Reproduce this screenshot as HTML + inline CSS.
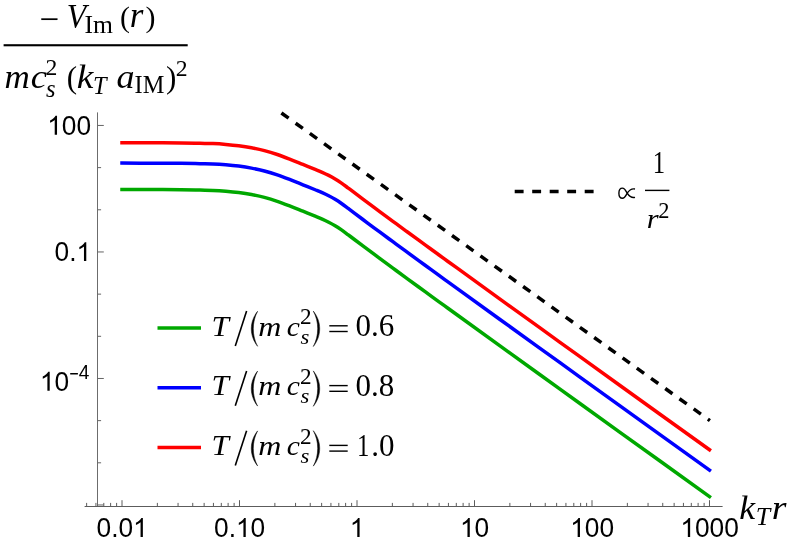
<!DOCTYPE html>
<html><head><meta charset="utf-8"><title>plot</title>
<style>html,body{margin:0;padding:0;background:#fff;overflow:hidden}svg{display:block;position:absolute;left:0;top:0;will-change:transform}text{white-space:pre}</style></head>
<body>
<svg width="789" height="543" viewBox="0 0 789 543">
<rect width="789" height="543" fill="#fff"/>
<g stroke="#5c5c5c" stroke-width="1" fill="none" shape-rendering="auto">
<line x1="97.5" y1="112.4" x2="97.5" y2="506.5" stroke="#6c6c6c"/>
<line x1="84.6" y1="506.5" x2="722.6" y2="506.5"/>
<line x1="86.63" y1="506.5" x2="86.63" y2="502.90"/>
<line x1="95.93" y1="506.5" x2="95.93" y2="502.90"/>
<line x1="103.80" y1="506.5" x2="103.80" y2="502.90"/>
<line x1="110.61" y1="506.5" x2="110.61" y2="502.90"/>
<line x1="116.62" y1="506.5" x2="116.62" y2="502.90"/>
<line x1="122.00" y1="506.5" x2="122.00" y2="500.20"/>
<line x1="157.37" y1="506.5" x2="157.37" y2="502.90"/>
<line x1="178.06" y1="506.5" x2="178.06" y2="502.90"/>
<line x1="192.74" y1="506.5" x2="192.74" y2="502.90"/>
<line x1="204.13" y1="506.5" x2="204.13" y2="502.90"/>
<line x1="213.43" y1="506.5" x2="213.43" y2="502.90"/>
<line x1="221.30" y1="506.5" x2="221.30" y2="502.90"/>
<line x1="228.11" y1="506.5" x2="228.11" y2="502.90"/>
<line x1="234.12" y1="506.5" x2="234.12" y2="502.90"/>
<line x1="239.50" y1="506.5" x2="239.50" y2="500.20"/>
<line x1="274.87" y1="506.5" x2="274.87" y2="502.90"/>
<line x1="295.56" y1="506.5" x2="295.56" y2="502.90"/>
<line x1="310.24" y1="506.5" x2="310.24" y2="502.90"/>
<line x1="321.63" y1="506.5" x2="321.63" y2="502.90"/>
<line x1="330.93" y1="506.5" x2="330.93" y2="502.90"/>
<line x1="338.80" y1="506.5" x2="338.80" y2="502.90"/>
<line x1="345.61" y1="506.5" x2="345.61" y2="502.90"/>
<line x1="351.62" y1="506.5" x2="351.62" y2="502.90"/>
<line x1="357.00" y1="506.5" x2="357.00" y2="500.20"/>
<line x1="392.37" y1="506.5" x2="392.37" y2="502.90"/>
<line x1="413.06" y1="506.5" x2="413.06" y2="502.90"/>
<line x1="427.74" y1="506.5" x2="427.74" y2="502.90"/>
<line x1="439.13" y1="506.5" x2="439.13" y2="502.90"/>
<line x1="448.43" y1="506.5" x2="448.43" y2="502.90"/>
<line x1="456.30" y1="506.5" x2="456.30" y2="502.90"/>
<line x1="463.11" y1="506.5" x2="463.11" y2="502.90"/>
<line x1="469.12" y1="506.5" x2="469.12" y2="502.90"/>
<line x1="474.50" y1="506.5" x2="474.50" y2="500.20"/>
<line x1="509.87" y1="506.5" x2="509.87" y2="502.90"/>
<line x1="530.56" y1="506.5" x2="530.56" y2="502.90"/>
<line x1="545.24" y1="506.5" x2="545.24" y2="502.90"/>
<line x1="556.63" y1="506.5" x2="556.63" y2="502.90"/>
<line x1="565.93" y1="506.5" x2="565.93" y2="502.90"/>
<line x1="573.80" y1="506.5" x2="573.80" y2="502.90"/>
<line x1="580.61" y1="506.5" x2="580.61" y2="502.90"/>
<line x1="586.62" y1="506.5" x2="586.62" y2="502.90"/>
<line x1="592.00" y1="506.5" x2="592.00" y2="500.20"/>
<line x1="627.37" y1="506.5" x2="627.37" y2="502.90"/>
<line x1="648.06" y1="506.5" x2="648.06" y2="502.90"/>
<line x1="662.74" y1="506.5" x2="662.74" y2="502.90"/>
<line x1="674.13" y1="506.5" x2="674.13" y2="502.90"/>
<line x1="683.43" y1="506.5" x2="683.43" y2="502.90"/>
<line x1="691.30" y1="506.5" x2="691.30" y2="502.90"/>
<line x1="698.11" y1="506.5" x2="698.11" y2="502.90"/>
<line x1="704.12" y1="506.5" x2="704.12" y2="502.90"/>
<line x1="709.50" y1="506.5" x2="709.50" y2="500.20"/>
<line x1="97.5" y1="125.45" x2="103.80" y2="125.45" stroke="#646464"/>
<line x1="97.5" y1="167.62" x2="101.10" y2="167.62" stroke="#646464"/>
<line x1="97.5" y1="209.79" x2="101.10" y2="209.79" stroke="#646464"/>
<line x1="97.5" y1="251.96" x2="103.80" y2="251.96" stroke="#646464"/>
<line x1="97.5" y1="294.13" x2="101.10" y2="294.13" stroke="#646464"/>
<line x1="97.5" y1="336.30" x2="101.10" y2="336.30" stroke="#646464"/>
<line x1="97.5" y1="378.47" x2="103.80" y2="378.47" stroke="#646464"/>
<line x1="97.5" y1="420.64" x2="101.10" y2="420.64" stroke="#646464"/>
<line x1="97.5" y1="462.81" x2="101.10" y2="462.81" stroke="#646464"/>
<line x1="97.5" y1="504.98" x2="103.80" y2="504.98" stroke="#646464"/>
</g>
<g fill="none" stroke-width="3.5" stroke-linejoin="round" stroke-linecap="square">
<path d="M122.00,189.50 C126.67,189.51 140.17,189.52 150.00,189.55 C159.83,189.58 172.67,189.61 181.00,189.70 C189.33,189.79 194.68,189.98 200.00,190.10 C205.32,190.22 208.60,190.22 212.90,190.40 C217.20,190.58 221.50,190.85 225.80,191.20 C230.10,191.55 234.42,191.95 238.70,192.50 C242.98,193.05 247.22,193.68 251.50,194.50 C255.78,195.32 260.10,196.27 264.40,197.40 C268.70,198.53 273.00,199.85 277.30,201.30 C281.60,202.75 285.93,204.45 290.20,206.10 C294.47,207.75 298.63,209.48 302.90,211.20 C307.17,212.92 312.58,215.08 315.80,216.40 C319.02,217.72 320.05,218.13 322.20,219.10 C324.35,220.07 326.55,221.10 328.70,222.20 C330.85,223.30 332.97,224.42 335.10,225.70 C337.23,226.98 339.37,228.42 341.50,229.90 C343.63,231.38 345.75,233.00 347.90,234.60 C350.05,236.20 351.17,237.07 354.40,239.50 C357.63,241.93 363.03,246.02 367.30,249.20 C371.57,252.38 375.73,255.45 380.00,258.60 C384.27,261.75 388.60,264.93 392.90,268.10 C397.20,271.27 401.50,274.45 405.80,277.60 C410.10,280.75 414.42,283.88 418.70,287.00 C422.98,290.12 427.22,293.18 431.50,296.30 C435.78,299.42 440.10,302.58 444.40,305.70 C448.70,308.82 448.03,308.30 457.30,315.00 C466.57,321.70 482.88,333.55 500.00,345.90 C517.12,358.25 540.00,374.70 560.00,389.10 C580.00,403.50 595.08,414.39 620.00,432.30 C644.92,450.21 694.58,485.84 709.50,496.55" stroke="#00a800"/>
<path d="M122.00,163.10 C126.67,163.11 140.17,163.12 150.00,163.15 C159.83,163.18 172.67,163.21 181.00,163.30 C189.33,163.39 194.68,163.58 200.00,163.70 C205.32,163.82 208.60,163.82 212.90,164.00 C217.20,164.18 221.50,164.45 225.80,164.80 C230.10,165.15 234.42,165.55 238.70,166.10 C242.98,166.65 247.22,167.28 251.50,168.10 C255.78,168.92 260.10,169.87 264.40,171.00 C268.70,172.13 273.00,173.45 277.30,174.90 C281.60,176.35 285.93,178.05 290.20,179.70 C294.47,181.35 298.63,183.08 302.90,184.80 C307.17,186.52 312.58,188.68 315.80,190.00 C319.02,191.32 320.05,191.73 322.20,192.70 C324.35,193.67 326.55,194.70 328.70,195.80 C330.85,196.90 332.97,198.02 335.10,199.30 C337.23,200.58 339.37,202.02 341.50,203.50 C343.63,204.98 345.75,206.60 347.90,208.20 C350.05,209.80 351.17,210.67 354.40,213.10 C357.63,215.53 363.03,219.62 367.30,222.80 C371.57,225.98 375.73,229.05 380.00,232.20 C384.27,235.35 388.60,238.53 392.90,241.70 C397.20,244.87 401.50,248.05 405.80,251.20 C410.10,254.35 414.42,257.48 418.70,260.60 C422.98,263.72 427.22,266.78 431.50,269.90 C435.78,273.02 440.10,276.18 444.40,279.30 C448.70,282.42 448.03,281.90 457.30,288.60 C466.57,295.30 482.88,307.15 500.00,319.50 C517.12,331.85 540.00,348.30 560.00,362.70 C580.00,377.10 595.08,387.99 620.00,405.90 C644.92,423.81 694.58,459.44 709.50,470.15" stroke="#0000ff"/>
<path d="M122.00,142.70 C126.67,142.71 140.17,142.72 150.00,142.75 C159.83,142.78 172.67,142.81 181.00,142.90 C189.33,142.99 194.68,143.18 200.00,143.30 C205.32,143.42 208.60,143.42 212.90,143.60 C217.20,143.78 221.50,144.05 225.80,144.40 C230.10,144.75 234.42,145.15 238.70,145.70 C242.98,146.25 247.22,146.88 251.50,147.70 C255.78,148.52 260.10,149.47 264.40,150.60 C268.70,151.73 273.00,153.05 277.30,154.50 C281.60,155.95 285.93,157.65 290.20,159.30 C294.47,160.95 298.63,162.68 302.90,164.40 C307.17,166.12 312.58,168.28 315.80,169.60 C319.02,170.92 320.05,171.33 322.20,172.30 C324.35,173.27 326.55,174.30 328.70,175.40 C330.85,176.50 332.97,177.62 335.10,178.90 C337.23,180.18 339.37,181.62 341.50,183.10 C343.63,184.58 345.75,186.20 347.90,187.80 C350.05,189.40 351.17,190.27 354.40,192.70 C357.63,195.13 363.03,199.22 367.30,202.40 C371.57,205.58 375.73,208.65 380.00,211.80 C384.27,214.95 388.60,218.13 392.90,221.30 C397.20,224.47 401.50,227.65 405.80,230.80 C410.10,233.95 414.42,237.08 418.70,240.20 C422.98,243.32 427.22,246.38 431.50,249.50 C435.78,252.62 440.10,255.78 444.40,258.90 C448.70,262.02 448.03,261.50 457.30,268.20 C466.57,274.90 482.88,286.75 500.00,299.10 C517.12,311.45 540.00,327.90 560.00,342.30 C580.00,356.70 595.08,367.59 620.00,385.50 C644.92,403.41 694.58,439.04 709.50,449.75" stroke="#ff0000"/>
</g>
<line x1="281.4" y1="113.0" x2="709.9" y2="420.58" stroke="#000" stroke-width="3.5" stroke-dasharray="8.9 8.6"/>
<line x1="157.5" y1="327.9" x2="201" y2="327.9" stroke="#00a800" stroke-width="3.5"/>
<line x1="157.5" y1="387.7" x2="201" y2="387.7" stroke="#0000ff" stroke-width="3.5"/>
<line x1="157.5" y1="447.5" x2="201" y2="447.5" stroke="#ff0000" stroke-width="3.5"/>
<line x1="514.7" y1="191.5" x2="593.9" y2="191.5" stroke="#000" stroke-width="3.5" stroke-dasharray="8.9 8.6"/>
<path transform="translate(47.23,134.72) scale(0.012842,-0.012842)" d="M763 0H583V1147Q518 1085 412.5 1023T223 930V1104Q374 1175 487 1276T647 1472H763Z" fill="#000"/>
<text transform="translate(61.85,134.72) scale(1,1.03)" font-family="'Liberation Sans', sans-serif" font-size="26.3" fill="#000">00</text>
<text transform="translate(54.54,261.12) scale(1,1.03)" font-family="'Liberation Sans', sans-serif" font-size="26.3" fill="#000">0.</text>
<path transform="translate(76.48,261.12) scale(0.012842,-0.012842)" d="M763 0H583V1147Q518 1085 412.5 1023T223 930V1104Q374 1175 487 1276T647 1472H763Z" fill="#000"/>
<path transform="translate(39.90,390.70) scale(0.012842,-0.012842)" d="M763 0H583V1147Q518 1085 412.5 1023T223 930V1104Q374 1175 487 1276T647 1472H763Z" fill="#000"/>
<text transform="translate(54.52,390.70) scale(1,1.03)" font-family="'Liberation Sans', sans-serif" font-size="26.3" fill="#000">0</text>
<rect x="70.2" y="373.0" width="7.7" height="1.5" fill="#000"/>
<text transform="translate(78.86,378.50) scale(1,1.03)" font-family="'Liberation Sans', sans-serif" font-size="19.1" fill="#000">4</text>
<text transform="translate(96.51,537.00) scale(1,1.03)" font-family="'Liberation Sans', sans-serif" font-size="26.3" fill="#000">0.0</text>
<path transform="translate(133.07,537.00) scale(0.012842,-0.012842)" d="M763 0H583V1147Q518 1085 412.5 1023T223 930V1104Q374 1175 487 1276T647 1472H763Z" fill="#000"/>
<text transform="translate(214.01,537.00) scale(1,1.03)" font-family="'Liberation Sans', sans-serif" font-size="26.3" fill="#000">0.</text>
<path transform="translate(235.94,537.00) scale(0.012842,-0.012842)" d="M763 0H583V1147Q518 1085 412.5 1023T223 930V1104Q374 1175 487 1276T647 1472H763Z" fill="#000"/>
<text transform="translate(250.57,537.00) scale(1,1.03)" font-family="'Liberation Sans', sans-serif" font-size="26.3" fill="#000">0</text>
<path transform="translate(349.79,537.00) scale(0.012842,-0.012842)" d="M763 0H583V1147Q518 1085 412.5 1023T223 930V1104Q374 1175 487 1276T647 1472H763Z" fill="#000"/>
<path transform="translate(459.98,537.00) scale(0.012842,-0.012842)" d="M763 0H583V1147Q518 1085 412.5 1023T223 930V1104Q374 1175 487 1276T647 1472H763Z" fill="#000"/>
<text transform="translate(474.60,537.00) scale(1,1.03)" font-family="'Liberation Sans', sans-serif" font-size="26.3" fill="#000">0</text>
<path transform="translate(570.17,537.00) scale(0.012842,-0.012842)" d="M763 0H583V1147Q518 1085 412.5 1023T223 930V1104Q374 1175 487 1276T647 1472H763Z" fill="#000"/>
<text transform="translate(584.79,537.00) scale(1,1.03)" font-family="'Liberation Sans', sans-serif" font-size="26.3" fill="#000">00</text>
<path transform="translate(680.35,537.00) scale(0.012842,-0.012842)" d="M763 0H583V1147Q518 1085 412.5 1023T223 930V1104Q374 1175 487 1276T647 1472H763Z" fill="#000"/>
<text transform="translate(694.98,537.00) scale(1,1.03)" font-family="'Liberation Sans', sans-serif" font-size="26.3" fill="#000">000</text>
<rect x="3.6" y="44.2" width="184.1" height="2.1" fill="#000"/>
<text x="39.46" y="30.90" font-family="'Liberation Serif', serif" font-style="normal" font-size="35" fill="#000">−</text>
<text transform="translate(66.64,27.30) scale(0.93,1.0)" font-family="'Liberation Serif', serif" font-style="italic" font-size="34.2" fill="#000">V</text>
<text x="84.38" y="32.80" font-family="'Liberation Serif', serif" font-style="normal" font-size="25.6" fill="#000">Im</text>
<text x="120.09" y="26.50" font-family="'Liberation Serif', serif" font-style="normal" font-size="29.9" fill="#000">(</text>
<text x="129.78" y="27.00" font-family="'Liberation Serif', serif" font-style="italic" font-size="35" fill="#000">r</text>
<text x="145.54" y="26.50" font-family="'Liberation Serif', serif" font-style="normal" font-size="29.9" fill="#000">)</text>
<text transform="translate(4.54,88.40) scale(1.0,0.96)" font-family="'Liberation Serif', serif" font-style="italic" font-size="35" fill="#000">m</text>
<text transform="translate(30.67,88.40) scale(1.05,0.96)" font-family="'Liberation Serif', serif" font-style="italic" font-size="35" fill="#000">c</text>
<text x="45.56" y="75.40" font-family="'Liberation Serif', serif" font-style="normal" font-size="23.7" fill="#000">2</text>
<text x="45.90" y="96.80" font-family="'Liberation Serif', serif" font-style="italic" font-size="24.5" fill="#000">s</text>
<text x="66.74" y="87.60" font-family="'Liberation Serif', serif" font-style="normal" font-size="31" fill="#000">(</text>
<text transform="translate(76.82,88.30) scale(1.07,0.95)" font-family="'Liberation Serif', serif" font-style="italic" font-size="35" fill="#000">k</text>
<text x="93.11" y="93.60" font-family="'Liberation Serif', serif" font-style="italic" font-size="24.3" fill="#000">T</text>
<text transform="translate(116.43,88.30) scale(1.03,0.95)" font-family="'Liberation Serif', serif" font-style="italic" font-size="35" fill="#000">a</text>
<text x="134.62" y="93.30" font-family="'Liberation Serif', serif" font-style="normal" font-size="24.3" fill="#000">IM</text>
<text x="165.90" y="87.60" font-family="'Liberation Serif', serif" font-style="normal" font-size="31" fill="#000">)</text>
<text x="175.76" y="75.90" font-family="'Liberation Serif', serif" font-style="normal" font-size="23.7" fill="#000">2</text>
<text transform="translate(739.17,518.60) scale(1.04,1.0)" font-family="'Liberation Serif', serif" font-style="italic" font-size="34.4" fill="#000">k</text>
<text transform="translate(755.81,525.30) scale(1.04,1.0)" font-family="'Liberation Serif', serif" font-style="italic" font-size="24.9" fill="#000">T</text>
<text transform="translate(771.67,518.60) scale(1.08,0.96)" font-family="'Liberation Serif', serif" font-style="italic" font-size="35" fill="#000">r</text>
<text transform="translate(211.55,335.50) scale(1.06,1.0)" font-family="'Liberation Serif', serif" font-style="italic" font-size="29.6" fill="#000">T</text>
<line x1="235.3" y1="346.00" x2="246.6" y2="311.10" stroke="#000" stroke-width="1.6"/>
<path d="M257.60,311.30 C249.20,321.80 249.20,335.80 257.60,346.30 C251.87,335.80 251.87,321.80 257.60,311.30Z" fill="#000" stroke="#000" stroke-width="0.5" stroke-linejoin="round"/>
<text transform="translate(258.34,335.50) scale(1.05,0.9)" font-family="'Liberation Serif', serif" font-style="italic" font-size="30.5" fill="#000">m</text>
<text transform="translate(286.69,335.50) scale(0.97,0.89)" font-family="'Liberation Serif', serif" font-style="italic" font-size="30.5" fill="#000">c</text>
<text x="299.88" y="323.90" font-family="'Liberation Serif', serif" font-style="normal" font-size="23.2" fill="#000">2</text>
<text transform="translate(300.62,343.50) scale(1.04,0.92)" font-family="'Liberation Serif', serif" font-style="italic" font-size="21.8" fill="#000">s</text>
<path d="M313.30,311.10 C321.83,321.72 321.83,335.88 313.30,346.50 C319.17,335.88 319.17,321.72 313.30,311.10Z" fill="#000" stroke="#000" stroke-width="0.5" stroke-linejoin="round"/>
<rect x="329.3" y="325.10" width="18.4" height="1.4" fill="#000"/>
<rect x="329.3" y="330.80" width="18.4" height="1.4" fill="#000"/>
<text x="355.52" y="336.20" font-family="'Liberation Serif', serif" font-style="normal" font-size="31" fill="#000">0.6</text>
<text transform="translate(211.55,395.30) scale(1.06,1.0)" font-family="'Liberation Serif', serif" font-style="italic" font-size="29.6" fill="#000">T</text>
<line x1="235.3" y1="405.80" x2="246.6" y2="370.90" stroke="#000" stroke-width="1.6"/>
<path d="M257.60,371.10 C249.20,381.60 249.20,395.60 257.60,406.10 C251.87,395.60 251.87,381.60 257.60,371.10Z" fill="#000" stroke="#000" stroke-width="0.5" stroke-linejoin="round"/>
<text transform="translate(258.34,395.30) scale(1.05,0.9)" font-family="'Liberation Serif', serif" font-style="italic" font-size="30.5" fill="#000">m</text>
<text transform="translate(286.69,395.30) scale(0.97,0.89)" font-family="'Liberation Serif', serif" font-style="italic" font-size="30.5" fill="#000">c</text>
<text x="299.88" y="383.70" font-family="'Liberation Serif', serif" font-style="normal" font-size="23.2" fill="#000">2</text>
<text transform="translate(300.62,403.30) scale(1.04,0.92)" font-family="'Liberation Serif', serif" font-style="italic" font-size="21.8" fill="#000">s</text>
<path d="M313.30,370.90 C321.83,381.52 321.83,395.68 313.30,406.30 C319.17,395.68 319.17,381.52 313.30,370.90Z" fill="#000" stroke="#000" stroke-width="0.5" stroke-linejoin="round"/>
<rect x="329.3" y="384.90" width="18.4" height="1.4" fill="#000"/>
<rect x="329.3" y="390.60" width="18.4" height="1.4" fill="#000"/>
<text x="355.52" y="396.00" font-family="'Liberation Serif', serif" font-style="normal" font-size="31" fill="#000">0.8</text>
<text transform="translate(211.55,455.10) scale(1.06,1.0)" font-family="'Liberation Serif', serif" font-style="italic" font-size="29.6" fill="#000">T</text>
<line x1="235.3" y1="465.60" x2="246.6" y2="430.70" stroke="#000" stroke-width="1.6"/>
<path d="M257.60,430.90 C249.20,441.40 249.20,455.40 257.60,465.90 C251.87,455.40 251.87,441.40 257.60,430.90Z" fill="#000" stroke="#000" stroke-width="0.5" stroke-linejoin="round"/>
<text transform="translate(258.34,455.10) scale(1.05,0.9)" font-family="'Liberation Serif', serif" font-style="italic" font-size="30.5" fill="#000">m</text>
<text transform="translate(286.69,455.10) scale(0.97,0.89)" font-family="'Liberation Serif', serif" font-style="italic" font-size="30.5" fill="#000">c</text>
<text x="299.88" y="443.50" font-family="'Liberation Serif', serif" font-style="normal" font-size="23.2" fill="#000">2</text>
<text transform="translate(300.62,463.10) scale(1.04,0.92)" font-family="'Liberation Serif', serif" font-style="italic" font-size="21.8" fill="#000">s</text>
<path d="M313.30,430.70 C321.83,441.32 321.83,455.48 313.30,466.10 C319.17,455.48 319.17,441.32 313.30,430.70Z" fill="#000" stroke="#000" stroke-width="0.5" stroke-linejoin="round"/>
<rect x="329.3" y="444.70" width="18.4" height="1.4" fill="#000"/>
<rect x="329.3" y="450.40" width="18.4" height="1.4" fill="#000"/>
<text transform="translate(357.02,455.80) scale(0.8,1.0)" font-family="'Liberation Serif', serif" font-style="normal" font-size="31" fill="#000">1</text>
<text x="371.36" y="455.80" font-family="'Liberation Serif', serif" font-style="normal" font-size="31" fill="#000">.0</text>
<path d="M635.0,189.0 C631.2,188.2 628.9,190.5 627.2,193.2 C625.8,195.5 624.8,198.3 622.5,198.3 C620.2,198.3 618.9,195.9 618.9,193.2 C618.9,190.5 620.2,188.1 622.5,188.1 C624.8,188.1 625.8,190.9 627.2,193.2 C628.9,195.9 631.2,198.2 635.0,197.4" fill="none" stroke="#000" stroke-width="1.4"/>
<text transform="translate(652.83,172.80) scale(0.8,1.0)" font-family="'Liberation Serif', serif" font-style="normal" font-size="30.9" fill="#000">1</text>
<rect x="645.0" y="189.7" width="24.4" height="1.4" fill="#000"/>
<text transform="translate(646.66,227.90) scale(1.0,0.89)" font-family="'Liberation Serif', serif" font-style="italic" font-size="30.5" fill="#000">r</text>
<text x="658.32" y="217.70" font-family="'Liberation Serif', serif" font-style="normal" font-size="22.4" fill="#000">2</text>
</svg>
</body></html>
